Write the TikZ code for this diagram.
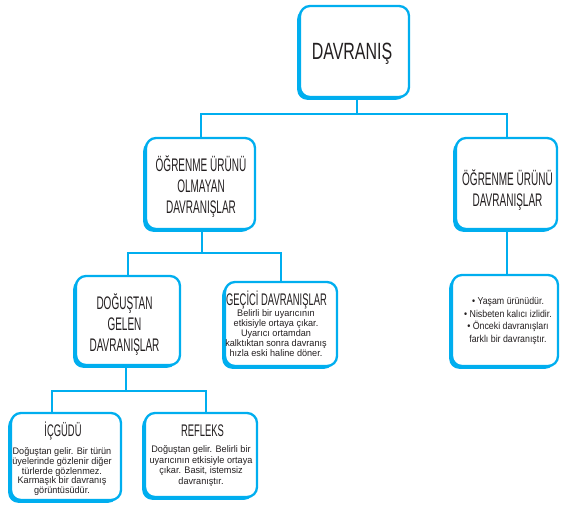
\documentclass[tikz,border=0pt]{standalone}
\usepackage{fontspec}
\setmainfont{Liberation Sans}
\newfontfamily\bigfont[FakeStretch=0.68]{Liberation Sans}
\newfontfamily\headfont[FakeStretch=0.55]{Liberation Sans}
\newfontfamily\subfont[FakeStretch=0.56]{Liberation Sans}
\newfontfamily\bodyfont[FakeStretch=0.96]{Liberation Sans}
\newfontfamily\listfont[FakeStretch=0.88]{Liberation Sans}
\usetikzlibrary{shadows}
\definecolor{cy}{HTML}{00AEEF}
\definecolor{ink}{HTML}{231F20}
\tikzset{
  box/.style={draw=cy, line width=2.3pt, rounded corners=10pt, fill=white, inner sep=0pt,
    general shadow={fill=cy, shadow xshift=-2.8pt, shadow yshift=-2.8pt}},
  conn/.style={draw=cy, line width=2pt},
  txt/.style={align=center, inner sep=0pt, text=ink},
  bigtxt/.style={txt, font=\bigfont\fontsize{23.5}{26}\selectfont},
  headtxt/.style={txt, font=\headfont\fontsize{18.2}{21}\selectfont},
  subhead/.style={txt, font=\subfont\fontsize{16.8}{18}\selectfont},
  bodytxt/.style={txt, font=\bodyfont\fontsize{9.5}{9.8}\selectfont},
  listtxt/.style={txt, font=\listfont\fontsize{10}{12.6}\selectfont},
}
% #1 name, #2 left, #3 top, #4 right, #5 bottom (outer extents in px)
\newcommand\placebox[5]{%
  \node[box, minimum width={(#4)-(#2)-4}, minimum height={(#5)-(#3)-4}]
    (#1) at ({((#2)+(#4))/2+1},{((#3)+(#5))/2-1}) {};}
\begin{document}
\begin{tikzpicture}[x=1pt,y=-1pt]
\useasboundingbox (0,0) rectangle (561,509);
% boxes
\placebox{davranis}{297}{5}{410}{100}
\placebox{olmayan}{143}{137}{256}{232}
\placebox{ogrenme}{453}{137}{558}{232}
\placebox{dogustan}{73}{275}{181}{368}
\placebox{gecici}{222}{281}{338}{369}
\placebox{liste}{449}{274}{559}{369}
\placebox{icgudu}{8}{412}{122}{503}
\placebox{refleks}{142}{412}{258}{500}
% texts
\node[bigtxt] (t-davranis) at (352,54) {DAVRANIŞ};
\node[headtxt] (t-olmayan) at (201,187) {ÖĞRENME ÜRÜNÜ\\OLMAYAN\\DAVRANIŞLAR};
\node[headtxt] (t-ogrenme) at (507.5,190) {ÖĞRENME ÜRÜNÜ\\DAVRANIŞLAR};
\node[headtxt] (t-dogustan) at (124.5,325) {DOĞUŞTAN\\GELEN\\DAVRANIŞLAR};
\node[subhead] (h-gecici) at (276.5,300) {GEÇİCİ DAVRANIŞLAR};
\node[bodytxt] (b-gecici) at (276,333) {Belirli bir uyarıcının\\etkisiyle ortaya çıkar.\\Uyarıcı ortamdan\\kalktıktan sonra davranış\\hızla eski haline döner.};
\node[listtxt] (t-liste) at (508,321) {• Yaşam ürünüdür.\\• Nisbeten kalıcı izlidir.\\• Önceki davranışları\\farklı bir davranıştır.};
\node[subhead] (h-icgudu) at (63,431) {İÇGÜDÜ};
\node[bodytxt] (b-icgudu) at (62,471.5) {Doğuştan gelir. Bir türün\\üyelerinde gözlenir diğer\\türlerde gözlenmez.\\Karmaşık bir davranış\\görüntüsüdür.};
\node[subhead] (h-refleks) at (202.5,431) {REFLEKS};
\node[bodytxt, font=\bodyfont\fontsize{9.5}{10.7}\selectfont] (b-refleks) at (201,466) {Doğuştan gelir. Belirli bir\\uyarıcının etkisiyle ortaya\\çıkar. Basit, istemsiz\\davranıştır.};
% connectors
\coordinate (j1) at (357,114);
\draw[conn] (davranis.south -| j1) -- (j1);
\draw[conn] (olmayan.north) |- (j1) -| (ogrenme.north);
\coordinate (j2) at (202,253);
\draw[conn] (olmayan.south -| j2) -- (j2);
\draw[conn] (dogustan.north) |- (j2) -| (gecici.north);
\draw[conn] (ogrenme.south) -- (ogrenme.south |- liste.north);
\coordinate (j3) at (126,391);
\draw[conn] (dogustan.south -| j3) -- (j3);
\draw[conn] ([xshift=-14pt]icgudu.north) |- (j3) -| ([xshift=5pt]refleks.north);
\end{tikzpicture}
\end{document}
